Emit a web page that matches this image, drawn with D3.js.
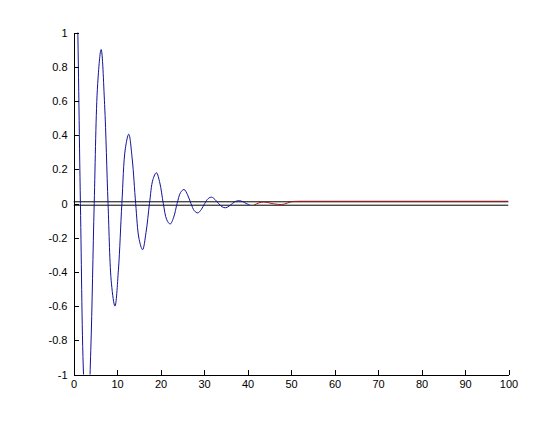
<!DOCTYPE html>
<meta charset="utf-8">
<style>
  body { margin: 0; background: #fff; }
  svg text { font-family: "Liberation Sans", Arial, sans-serif; font-size: 11px; fill: #000; }
</style>
<body>
<div class="chart"></div>
<script src="https://d3js.org/d3.v7.min.js"></script>
<script>
// damped response (values past +-1 are cut by the axes)
const respX = [0, 0.79, 1.59, 2.38, 3.18, 3.97, 4.76, 5.56, 6.35, 7.15, 7.94, 8.73, 9.53, 10.32,
  11.12, 11.91, 12.7, 13.5, 14.29, 15.09, 15.88, 16.67, 17.47, 18.26, 19.06, 19.85, 20.64,
  21.44, 22.23, 23.03, 23.82, 24.61, 25.41, 26.2, 27.0, 27.79, 28.58, 29.38, 30.17, 30.97,
  31.76, 32.55, 33.35, 34.14, 34.94, 35.73, 36.52, 37.32, 38.11, 38.91, 39.7, 40.5];
const respY = [2.0, 1.28, 0, -1.05, -1.34, -0.86, 0, 0.70, 0.90, 0.58, 0, -0.47, -0.60, -0.39,
  0, 0.32, 0.405, 0.26, 0, -0.21, -0.27, -0.17, 0, 0.14, 0.18, 0.12, 0,
  -0.095, -0.12, -0.08, 0, 0.064, 0.082, 0.052, 0, -0.043, -0.055, -0.035, 0, 0.029,
  0.037, 0.023, 0, -0.019, -0.025, -0.016, 0, 0.013, 0.016, 0.011, 0, -0.008];

// red tail
const tailX = [41.5, 43.7, 46.0, 47.8, 50.5, 52, 60, 100];
const tailY = [-0.009, 0.009, -0.002, -0.006, 0.012, 0.013, 0.013, 0.013];

// black tolerance band
const bandY = [0.01, -0.01];
const bandX = [0, 100];

const xTicks = d3.range(0, 101, 10);
const yTicks = [-1, -0.8, -0.6, -0.4, -0.2, 0, 0.2, 0.4, 0.6, 0.8, 1];

let width = 560, height = 421;
let x = d3.scaleLinear().domain([0, 100]).range([73.5, 508.5]);
let y = d3.scaleLinear().domain([-1, 1]).range([374.5, 32.5]);

let svg = d3.select(".chart").append("svg")
    .attr("width", width)
    .attr("height", height);

svg.append("defs").append("clipPath")
    .attr("id", "plotclip")
    .append("rect")
    .attr("x", x(0)).attr("y", y(1))
    .attr("width", x(100) - x(0)).attr("height", y(-1) - y(1));

let plot = svg.append("g").attr("clip-path", "url(#plotclip)");

let line = d3.line()
    .x(d => x(d[0]))
    .y(d => y(d[1]));

plot.selectAll(".band")
    .data(bandY)
    .join("path")
    .attr("class", "band")
    .attr("fill", "none")
    .attr("stroke", "#000")
    .attr("stroke-width", 1)
    .attr("d", v => line(bandX.map(xv => [xv, v])));

plot.append("path")
    .datum(tailX.map((v, i) => [v, tailY[i]]))
    .attr("fill", "none")
    .attr("stroke", "#a01818")
    .attr("stroke-width", 1)
    .attr("d", line.curve(d3.curveMonotoneX));

plot.append("path")
    .datum(respX.map((v, i) => [v, respY[i]]))
    .attr("fill", "none")
    .attr("stroke", "#12129a")
    .attr("stroke-width", 1)
    .attr("d", line.curve(d3.curveCatmullRom));

// axes, ticks pointing inward like the original
let xAxis = d3.axisBottom(x)
    .tickValues(xTicks)
    .tickSizeInner(-5)
    .tickSizeOuter(0)
    .tickPadding(6)
    .tickFormat(d => String(d));

let yAxis = d3.axisLeft(y)
    .tickValues(yTicks)
    .tickSizeInner(-5)
    .tickSizeOuter(0)
    .tickPadding(6)
    .tickFormat(d => String(d));

let gx = svg.append("g")
    .attr("transform", `translate(0, ${y(-1)})`)
    .call(xAxis);
let gy = svg.append("g")
    .attr("transform", `translate(${x(0)}, 0)`)
    .call(yAxis);

[gx, gy].forEach(g => {
    g.selectAll("path, line").attr("stroke", "#000").attr("shape-rendering", "crispEdges");
    g.attr("font-size", null).attr("font-family", null);
});
</script>
</body>
